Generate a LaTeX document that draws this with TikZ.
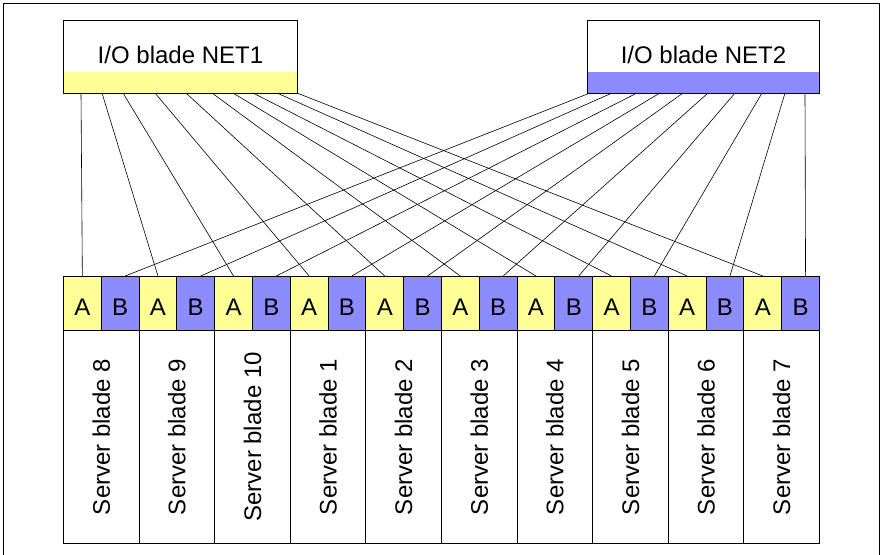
\documentclass[tikz,border=0pt]{standalone}
\usepackage{fontspec}
\setmainfont{Liberation Sans}
\definecolor{netyellow}{RGB}{255,255,150}
\definecolor{netblue}{RGB}{140,140,255}

\begin{document}
\begin{tikzpicture}[x=1pt,y=-1pt,every node/.style={font=\fontsize{24}{28}\selectfont},
    netbox/.style={draw, line width=0.9pt, anchor=north west, minimum width=234pt, minimum height=73pt,
        inner sep=0pt, text height=13pt, text depth=0pt},
    port/.style={draw, line width=0.9pt, anchor=north west, minimum width=37.8pt, minimum height=54pt,
        inner sep=0pt, text height=24pt, text depth=0pt},
    blade/.style={draw, line width=0.9pt, anchor=north west, minimum width=75.6pt, minimum height=213pt, inner sep=0pt},
    link/.style={line width=0.6pt}]
    \useasboundingbox (0,0) rectangle (883,554);
    % frame, open at the bottom
    \draw[line width=0.9pt] (3,560) -- (3,3) -- (879,3) -- (879,560);
    % I/O blades
    \node[netbox, path picture={\fill[netyellow] (path picture bounding box.south west) rectangle
        ([yshift=21pt]path picture bounding box.south east);}] (net1) at (63,20) {I/O blade NET1};
    \node[netbox, minimum width=232pt, path picture={\fill[netblue] (path picture bounding box.south west) rectangle
        ([yshift=21pt]path picture bounding box.south east);}] (net2) at (587,20) {I/O blade NET2};
    % server blades with ports A and B
    \foreach \lab [count=\i from 0] in {8,9,10,1,2,3,4,5,6,7} {
        \node[blade] (s\lab) at (63+75.6*\i,330) {};
        \node[rotate=90] (l\lab) at (s\lab.center) {Server blade \lab};
        \node[port, fill=netyellow] (a\lab) at (63+75.6*\i,276) {A};
        \node[port, fill=netblue] (b\lab) at (100.8+75.6*\i,276) {B};
    }
    % links NET1 -> A, NET2 -> B
    \foreach \sx/\lab [count=\i] in {81/8,102/9,123/10,155/1,186/2,212/3,233/4,253/5,277/6,297/7} {
        \coordinate (n1s\i) at (\sx,93);
        \draw[link] (n1s\i) -- (a\lab.north);
    }
    \foreach \sx/\lab [count=\i] in {590/8,612/9,637/10,660/1,683/2,708/3,735/4,762/5,785/6,805/7} {
        \coordinate (n2s\i) at (\sx,93);
        \draw[link] (n2s\i) -- ([xshift=5pt]b\lab.north);
    }
\end{tikzpicture}
\end{document}
